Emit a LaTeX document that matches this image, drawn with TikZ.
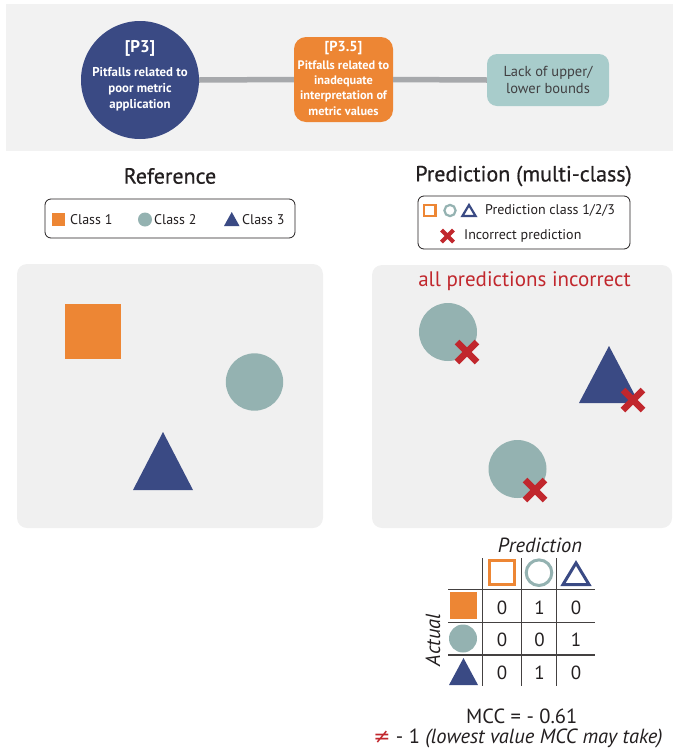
\documentclass[tikz,border=0pt]{standalone}
\usepackage{fontspec}
\setmainfont{PT Sans}
\newfontfamily\symfont{DejaVu Sans}
\newfontfamily\semib[BoldFont={PT Sans}, BoldFeatures={FakeBold=0.7}]{PT Sans}
\usetikzlibrary{shapes.geometric}
\definecolor{navy}{HTML}{3A4A84}
\definecolor{orng}{HTML}{ED8634}
\definecolor{tealbox}{HTML}{A8CCCB}
\definecolor{tealshape}{HTML}{94B2B1}
\definecolor{xred}{HTML}{C1272D}
\definecolor{bandgrey}{HTML}{F2F2F2}
\definecolor{panelgrey}{HTML}{F0F0F0}
\definecolor{linegrey}{HTML}{A7A9AC}
\definecolor{ink}{HTML}{231F20}
\definecolor{darkgreytext}{HTML}{414042}
\begin{document}
\begin{tikzpicture}[x=1pt,y=-1pt,
  fs/.style={font=\fontsize{#1}{#1}\selectfont},
  legendbox/.style={draw=ink, line width=0.8pt, rounded corners=6pt, fill=white, inner sep=0pt},
  panel/.style={fill=panelgrey, rounded corners=10pt},
  lbl/.style={inner sep=0pt, text=ink},
  redx/.pic={\draw[line width=#1, xred] (-10,-10)--(10,10) (-10,10)--(10,-10);},
  gridline/.style={draw=ink!85, line width=1.1pt}
]
\useasboundingbox (0,0) rectangle (673,753);
% top band
\fill[bandgrey] (6,4) rectangle (673,151);
\node[circle, fill=navy, minimum size=118pt, inner sep=0pt] (p3) at (140,80) {};
\node[lbl, text=white, align=center, font=\bfseries\fontsize{17}{17}\selectfont] (p3t) at (140,48) {[P3]};
\node[lbl, text=white, align=center, font=\bfseries\fontsize{12.8}{16}\selectfont] (p3b) at (140,89) {Pitfalls related to\\poor metric\\application};
\node[fill=orng, rounded corners=12pt, minimum width=99pt, minimum height=85pt, inner sep=0pt] (p35) at (343.5,79.5) {};
\node[lbl, text=white, font=\bfseries\fontsize{14.5}{14.5}\selectfont] (p35t) at (343.5,48) {[P3.5]};
\node[lbl, text=white, align=center, font=\bfseries\fontsize{12.3}{15.3}\selectfont] (p35b) at (343.5,88) {Pitfalls related to\\inadequate\\interpretation of\\metric values};
\node[fill=tealbox, rounded corners=10pt, minimum width=122pt, minimum height=52pt, inner sep=0pt, text=darkgreytext, align=center, font=\fontsize{14.5}{17.5}\selectfont] (lack) at (548,80) {Lack of upper/\\lower bounds};
\draw[line width=5.5pt, linegrey] (p3.east) -- (p35.west);
\draw[line width=5.5pt, linegrey] (p35.east) -- (lack.west);
% titles
\node[lbl, font=\semib\bfseries\fontsize{22}{22}\selectfont] (reftitle) at (170,176) {Reference};
\node[lbl, font=\semib\bfseries\fontsize{22}{22}\selectfont] (predtitle) at (523.5,176) {Prediction (multi-class)};
% left legend
\node[legendbox, minimum width=250pt, minimum height=39pt] (leg1) at (170,218.5) {};
\fill[orng] (51.5,213) rectangle (64.5,226);
\fill[tealshape] (145,219.5) circle (7);
\fill[navy] (231.75,212) -- (239.5,226) -- (224,226) -- cycle;
\node[lbl, anchor=west, fs=14] (c1) at (70,219.5) {Class 1};
\node[lbl, anchor=west, fs=14] (c2) at (154,219.5) {Class 2};
\node[lbl, anchor=west, fs=14] (c3) at (242,219.5) {Class 3};
% right legend
\node[legendbox, minimum width=212pt, minimum height=53pt] (leg2) at (524,222.5) {};
\draw[orng, line width=2.4pt] (424.2,205.2) rectangle (435.3,215.8);
\draw[tealshape, line width=2.2pt] (450,210.5) circle (5.6);
\draw[navy, line width=2.2pt, line join=miter] (469,205) -- (475.6,216) -- (462.4,216) -- cycle;
\node[lbl, anchor=west, fs=14] (pc) at (485,210.5) {Prediction class 1/2/3};
\pic[scale=0.6] at (447.5,236) {redx=4.2pt};
\node[lbl, anchor=west, fs=14] (ip) at (464,236) {Incorrect prediction};
% panels
\fill[panel] (17,264) rectangle (323,528);
\fill[panel] (372,265) rectangle (672,528);
% left panel shapes
\fill[orng] (65,304) rectangle (121,359);
\fill[tealshape] (254.5,382) circle (28.7);
\fill[navy] (163,432) -- (193,490) -- (133,490) -- cycle;
% right panel
\node[lbl, text=xred, fs=21] (allinc) at (524.5,281) {all predictions incorrect};
\fill[tealshape] (448,332) circle (29);
\pic at (467,352) {redx=6.5pt};
\fill[navy] (609,346) -- (639,403) -- (579,403) -- cycle;
\pic at (633,400) {redx=6.5pt};
\fill[tealshape] (517.5,469) circle (29);
\pic at (535,490) {redx=6.5pt};
% confusion matrix
\node[lbl, font=\itshape\fontsize{20.5}{20.5}\selectfont] (predlab) at (540,545) {Prediction};
\node[lbl, font=\itshape\fontsize{20.5}{20.5}\selectfont, rotate=90] (actlab) at (433,640) {Actual};
\draw[gridline] (482.7,558) -- (482.7,686);
\draw[gridline] (521.7,558) -- (521.7,686);
\draw[gridline] (556.7,558) -- (556.7,686);
\draw[gridline] (448,589.3) -- (595,589.3);
\draw[gridline] (448,622.7) -- (595,622.7);
\draw[gridline] (448,655) -- (595,655);
\draw[orng, line width=3pt] (489.5,560.5) rectangle (514.5,584.5);
\draw[tealshape, line width=3pt] (539,572.7) circle (12.8);
\draw[navy, line width=3pt, line join=miter] (576,563) -- (589,584.5) -- (563,584.5) -- cycle;
\fill[orng] (450,592) rectangle (477,619);
\fill[tealshape] (463,638.5) circle (14);
\fill[navy] (463.5,658) -- (478,685) -- (449,685) -- cycle;
\foreach \r/\y in {1/608,2/640,3/673}{
  \foreach \c/\x in {1/502,2/539.5,3/576}{
    \coordinate (cell\r\c) at (\x,\y);
  }
}
\node[lbl, fs=19] at (cell11) {0};
\node[lbl, fs=19] at (cell12) {1};
\node[lbl, fs=19] at (cell13) {0};
\node[lbl, fs=19] at (cell21) {0};
\node[lbl, fs=19] at (cell22) {0};
\node[lbl, fs=19] at (cell23) {1};
\node[lbl, fs=19] at (cell31) {0};
\node[lbl, fs=19] at (cell32) {1};
\node[lbl, fs=19] at (cell33) {0};
\node[lbl, fs=20.5] (mcc) at (521.7,716.5) {MCC = - 0.61};
\node[lbl, fs=20.5] (low) at (518,738) {{\symfont\color{xred}≠} - 1 \textit{(lowest value MCC may take)}};
\end{tikzpicture}
\end{document}
